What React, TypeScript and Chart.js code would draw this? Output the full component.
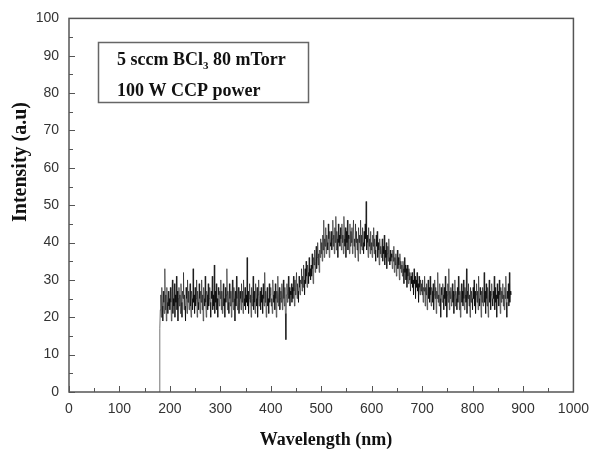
import React, { useEffect, useRef } from "react";
import { Chart, registerables } from "chart.js";

Chart.register(...registerables);

// ---- data ----
const X_MIN = 0;
const X_MAX = 1000;
const X_STEP = 100;
const Y_MIN = 0;
const Y_MAX = 100;
const Y_STEP = 10;

const TITLE_X = "Wavelength (nm)";
const TITLE_Y = "Intensity (a.u)";
const NOTE_LINE1_A = "5 sccm BCl";
const NOTE_LINE1_SUB = "3";
const NOTE_LINE1_B = " 80 mTorr";
const NOTE_LINE2 = "100 W CCP power";

// spectrum onset (the detector edge) and evenly sampled spectrum (1 nm)
const ONSET_WAVELENGTH = 179;
const ONSET_INTENSITY = 0;
const WAVELENGTH_START = 180;
const WAVELENGTH_STEP = 1;
const INTENSITY = [
  // 180-199
  17, 22, 26, 20, 28, 23, 19, 27, 24, 21, 33, 22, 26, 19, 28, 24, 21, 27, 23, 25,
  // 200-219
  22, 28, 24, 19, 27, 30, 21, 25, 23, 29, 20, 26, 24, 31, 22, 27, 19, 25, 28, 23,
  // 220-239
  26, 21, 29, 24, 20, 27, 25, 32, 22, 26, 23, 19, 28, 25, 21, 30, 24, 27, 22, 26,
  // 240-259
  29, 23, 20, 27, 25, 22, 33, 24, 26, 21, 28, 23, 25, 30, 20, 27, 24, 22, 29, 25,
  // 260-279
  21, 27, 24, 30, 22, 26, 19, 28, 25, 23, 31, 24, 20, 27, 26, 22, 29, 23, 25, 28,
  // 280-299
  24, 20, 27, 25, 31, 22, 26, 23, 34, 21, 27, 24, 29, 22, 25, 20, 28, 26, 23, 27,
  // 300-319
  25, 30, 22, 27, 21, 26, 29, 23, 25, 20, 28, 24, 26, 33, 22, 27, 24, 21, 29, 25,
  // 320-339
  23, 27, 20, 26, 30, 24, 22, 28, 25, 19, 27, 23, 31, 25, 22, 26, 28, 21, 24, 27,
  // 340-359
  25, 22, 29, 24, 27, 21, 30, 25, 23, 28, 22, 26, 24, 36, 23, 27, 21, 25, 29, 24,
  // 360-379
  26, 20, 28, 23, 25, 31, 22, 27, 24, 21, 29, 25, 23, 28, 20, 26, 30, 23, 25, 27,
  // 380-399
  22, 28, 24, 26, 21, 29, 25, 23, 32, 24, 27, 20, 26, 28, 23, 25, 21, 29, 24, 26,
  // 400-419
  28, 23, 25, 21, 30, 26, 24, 27, 22, 29, 25, 20, 27, 24, 31, 23, 26, 28, 22, 25,
  // 420-439
  27, 24, 29, 22, 26, 30, 25, 23, 28, 21, 14, 26, 29, 24, 27, 31, 25, 28, 23, 27,
  // 440-459
  26, 29, 24, 28, 25, 31, 27, 23, 30, 26, 28, 32, 25, 29, 27, 24, 31, 28, 26, 30,
  // 460-479
  29, 33, 27, 31, 28, 34, 30, 26, 33, 29, 35, 31, 28, 34, 32, 29, 36, 31, 33, 30,
  // 480-499
  34, 31, 37, 33, 29, 36, 34, 38, 32, 35, 39, 33, 36, 40, 34, 37, 32, 38, 36, 41,
  // 500-519
  37, 40, 35, 42, 38, 46, 36, 41, 39, 44, 37, 42, 40, 38, 45, 41, 36, 43, 40, 39,
  // 520-539
  43, 38, 41, 46, 39, 42, 37, 44, 40, 47, 38, 43, 41, 36, 45, 40, 42, 39, 44, 41,
  // 540-559
  38, 45, 40, 42, 37, 47, 41, 39, 44, 36, 43, 40, 46, 38, 42, 41, 37, 45, 39, 43,
  // 560-579
  40, 44, 37, 42, 46, 39, 41, 36, 45, 40, 43, 38, 41, 35, 44, 40, 42, 37, 46, 39,
  // 580-599
  42, 38, 44, 40, 37, 43, 39, 45, 41, 51, 38, 42, 40, 36, 44, 39, 41, 37, 43, 38,
  // 600-619
  40, 36, 42, 39, 44, 37, 41, 38, 35, 42, 39, 43, 36, 40, 38, 34, 41, 37, 39, 36,
  // 620-639
  38, 41, 35, 39, 37, 42, 34, 38, 36, 40, 33, 37, 39, 35, 41, 36, 34, 38, 35, 37,
  // 640-659
  36, 33, 38, 35, 39, 32, 36, 34, 37, 31, 35, 38, 33, 36, 34, 30, 37, 33, 35, 32,
  // 660-679
  34, 31, 35, 33, 29, 36, 32, 34, 30, 33, 28, 34, 31, 29, 33, 30, 32, 27, 31, 29,
  // 680-699
  32, 28, 30, 26, 33, 29, 31, 25, 30, 28, 32, 27, 29, 24, 31, 28, 26, 30, 27, 29,
  // 700-719
  26, 30, 24, 28, 27, 31, 23, 28, 26, 29, 22, 27, 30, 25, 28, 24, 31, 26, 23, 28,
  // 720-739
  27, 24, 29, 22, 26, 30, 25, 28, 21, 27, 25, 32, 24, 26, 23, 29, 25, 20, 28, 26,
  // 740-759
  24, 29, 26, 22, 28, 25, 31, 23, 27, 20, 26, 29, 24, 33, 22, 27, 25, 28, 23, 26,
  // 760-779
  29, 24, 27, 21, 26, 30, 23, 27, 25, 22, 28, 24, 31, 26, 22, 27, 20, 26, 29, 24,
  // 780-799
  27, 23, 30, 25, 22, 28, 26, 24, 33, 21, 27, 25, 29, 23, 26, 20, 28, 24, 27, 25,
  // 800-819
  22, 28, 25, 30, 23, 27, 21, 26, 29, 24, 27, 22, 31, 25, 23, 28, 26, 20, 27, 24,
  // 820-839
  28, 23, 26, 32, 24, 27, 21, 29, 25, 23, 28, 20, 26, 30, 24, 27, 22, 26, 29, 25,
  // 840-859
  23, 27, 25, 31, 22, 28, 24, 26, 20, 29, 25, 27, 23, 30, 26, 21, 28, 24, 27, 25,
  // 860-876
  29, 23, 26, 22, 28, 25, 31, 24, 20, 27, 25, 29, 23, 32, 24, 27, 26,
];

const W = 598;
const H = 449;

const AXIS_COLOR = "#555";
const SERIF = '"Liberation Serif", "Times New Roman", serif';
const SANS = '"Liberation Sans", Arial, sans-serif';

const decorPlugin = {
  id: "decor",
  afterDraw(chart: any) {
    const ctx: CanvasRenderingContext2D = chart.ctx;
    const { left, right, top, bottom } = chart.chartArea;
    const xs = chart.scales.x;
    const ys = chart.scales.y;
    ctx.save();
    // frame
    ctx.strokeStyle = AXIS_COLOR;
    ctx.lineWidth = 1.5;
    ctx.strokeRect(left, top, right - left, bottom - top);
    // inward ticks
    ctx.lineWidth = 1;
    ctx.beginPath();
    for (let v = X_MIN; v <= X_MAX; v += X_STEP / 2) {
      const px = Math.round(xs.getPixelForValue(v)) + 0.5;
      const len = v % X_STEP === 0 ? 6 : 4;
      ctx.moveTo(px, bottom);
      ctx.lineTo(px, bottom - len);
    }
    for (let v = Y_MIN; v <= Y_MAX; v += Y_STEP / 2) {
      const py = Math.round(ys.getPixelForValue(v)) + 0.5;
      const len = v % Y_STEP === 0 ? 6 : 4;
      ctx.moveTo(left, py);
      ctx.lineTo(left + len, py);
    }
    ctx.stroke();

    // axis titles
    ctx.fillStyle = "#111";
    ctx.textAlign = "center";
    ctx.textBaseline = "alphabetic";
    ctx.font = `bold 18px ${SERIF}`;
    ctx.fillText(TITLE_X, 326, 445);
    ctx.save();
    ctx.translate(26, 162);
    ctx.rotate(-Math.PI / 2);
    ctx.font = `bold 20px ${SERIF}`;
    ctx.fillText(TITLE_Y, 0, 0);
    ctx.restore();

    // annotation box
    ctx.strokeStyle = "#666";
    ctx.lineWidth = 1.5;
    ctx.strokeRect(98.5, 42.5, 210, 60);
    ctx.textAlign = "left";
    ctx.font = `bold 18px ${SERIF}`;
    let x = 117;
    ctx.fillText(NOTE_LINE1_A, x, 65);
    x += ctx.measureText(NOTE_LINE1_A).width;
    ctx.font = `bold 11px ${SERIF}`;
    ctx.fillText(NOTE_LINE1_SUB, x, 69);
    x += ctx.measureText(NOTE_LINE1_SUB).width;
    ctx.font = `bold 18px ${SERIF}`;
    ctx.fillText(NOTE_LINE1_B, x, 65);
    ctx.fillText(NOTE_LINE2, 117, 96);
    ctx.restore();
  },
};

export default function App() {
  const ref = useRef<HTMLCanvasElement | null>(null);

  useEffect(() => {
    if (!ref.current) return;
    const points = [{ x: ONSET_WAVELENGTH, y: ONSET_INTENSITY }].concat(
      INTENSITY.map((v, i) => ({ x: WAVELENGTH_START + i * WAVELENGTH_STEP, y: v }))
    );
    const chart = new Chart(ref.current, {
      type: "line",
      data: {
        datasets: [
          {
            data: points,
            borderColor: "rgba(0,0,0,0.55)",
            borderWidth: 1,
            pointRadius: 0,
            tension: 0,
            fill: false,
          },
        ],
      },
      options: {
        responsive: false,
        animation: false,
        devicePixelRatio: 1,
        layout: { padding: { left: 0, right: 17, top: 18, bottom: 0 } },
        plugins: { legend: { display: false }, tooltip: { enabled: false } },
        scales: {
          x: {
            type: "linear",
            min: X_MIN,
            max: X_MAX,
            grid: { display: false, drawTicks: false },
            border: { display: false },
            afterFit: (s: any) => {
              s.height = 57;
            },
            ticks: {
              stepSize: X_STEP,
              padding: 9,
              color: "#333",
              font: { family: SANS, size: 14 },
              maxRotation: 0,
              autoSkip: false,
              callback: (v: any) => String(v),
            },
          },
          y: {
            type: "linear",
            min: Y_MIN,
            max: Y_MAX,
            grid: { display: false, drawTicks: false },
            border: { display: false },
            afterFit: (s: any) => {
              s.width = 69;
            },
            ticks: {
              stepSize: Y_STEP,
              padding: 10,
              color: "#333",
              font: { family: SANS, size: 14 },
              autoSkip: false,
              callback: (v: any) => String(v),
            },
          },
        },
      },
      plugins: [decorPlugin],
    });
    return () => chart.destroy();
  }, []);

  return (
    <div style={{ position: "fixed", left: 0, top: 0, width: W, height: H, background: "#fff" }}>
      <canvas ref={ref} width={W} height={H} style={{ display: "block", width: W, height: H }} />
    </div>
  );
}
